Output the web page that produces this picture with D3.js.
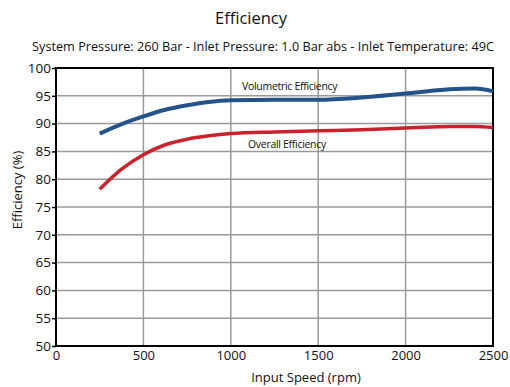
<!DOCTYPE html>
<html><head><meta charset="utf-8">
<script src="https://cdn.jsdelivr.net/npm/d3@7"></script>
<style>body{margin:0;background:#fff}svg{display:block}text{font-family:"Open Sans","Noto Sans",sans-serif;fill:#111}</style>
</head><body><svg id="c" width="510" height="387"></svg>
<script>
const rpm = [250, 375, 500, 625, 750, 875, 1000, 1250, 1500, 1750, 2000, 2150, 2250, 2400, 2500];
const volumetric = [88.2, 89.9, 91.3, 92.5, 93.3, 93.9, 94.2, 94.3, 94.3, 94.7, 95.4, 95.9, 96.2, 96.3, 95.8];
const overall = [78.2, 81.8, 84.4, 86.2, 87.2, 87.8, 88.2, 88.5, 88.7, 88.9, 89.2, 89.4, 89.5, 89.5, 89.3];
const xTicks = [0, 500, 1000, 1500, 2000, 2500];
const yTicks = [50, 55, 60, 65, 70, 75, 80, 85, 90, 95, 100];

const svg = d3.select("#c");
const L = 56, R = 493, T = 68, B = 346;
const x = d3.scaleLinear().domain([0, 2500]).range([L, R]);
const y = d3.scaleLinear().domain([50, 100]).range([B, T]);

svg.append("text").attr("x", 251).attr("y", 24).attr("text-anchor", "middle").attr("font-size", 16.5).text("Efficiency");
svg.append("text").attr("x", 263).attr("y", 51).attr("text-anchor", "middle").attr("font-size", 12.7)
  .text("System Pressure: 260 Bar - Inlet Pressure: 1.0 Bar abs - Inlet Temperature: 49C");

// grid
svg.append("g").selectAll("line").data(yTicks).join("line")
  .attr("x1", L).attr("x2", R).attr("y1", d => y(d)).attr("y2", d => y(d))
  .attr("stroke", "#9a9a9a").attr("stroke-width", 1.5);
svg.append("g").selectAll("line").data(xTicks).join("line")
  .attr("x1", d => x(d)).attr("x2", d => x(d)).attr("y1", T).attr("y2", B)
  .attr("stroke", "#9a9a9a").attr("stroke-width", 1.5);

// frame
svg.append("rect").attr("x", L).attr("y", T).attr("width", R - L).attr("height", B - T)
  .attr("fill", "none").attr("stroke", "#000").attr("stroke-width", 2);

// axes
const xa = svg.append("g").attr("transform", `translate(0,${B})`)
  .call(d3.axisBottom(x).tickValues(xTicks).tickSize(0).tickPadding(5).tickFormat(d3.format("d")));
xa.select(".domain").remove();
xa.selectAll("text").attr("font-size", 13).attr("font-family", '"Open Sans",sans-serif').attr("fill", "#111");
const ya = svg.append("g").attr("transform", `translate(${L},0)`)
  .call(d3.axisLeft(y).tickValues(yTicks).tickSize(4).tickPadding(1).tickFormat(d3.format("d")));
ya.select(".domain").remove();
ya.selectAll("line").attr("stroke", "#000").attr("stroke-width", 1.5);
ya.selectAll("text").attr("font-size", 13.5).attr("font-family", '"Open Sans",sans-serif').attr("fill", "#111");

svg.append("text").attr("x", 306).attr("y", 382).attr("text-anchor", "middle").attr("font-size", 13).text("Input Speed (rpm)");
svg.append("text").attr("transform", "translate(22,190) rotate(-90)").attr("text-anchor", "middle").attr("font-size", 13).text("Efficiency  (%)");

const line = d3.line().x((d, i) => x(rpm[i])).y(d => y(d)).curve(d3.curveMonotoneX);
svg.append("path").datum(overall).attr("d", line).attr("fill", "none").attr("stroke", "#c8232c").attr("stroke-width", 3.5);
svg.append("path").datum(volumetric).attr("d", line).attr("fill", "none").attr("stroke", "#24538a").attr("stroke-width", 4);

svg.append("text").attr("x", 242).attr("y", 90).attr("font-size", 10.5).attr("letter-spacing", -0.3).text("Volumetric Efficiency");
svg.append("text").attr("x", 248).attr("y", 148).attr("font-size", 10.5).attr("letter-spacing", -0.3).text("Overall Efficiency");
</script></body></html>
